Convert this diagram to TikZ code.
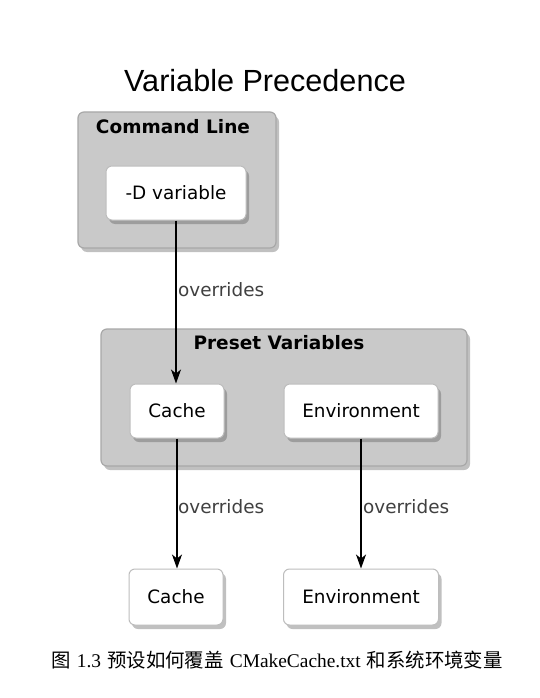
\documentclass[tikz,border=0pt]{standalone}
\usepackage{fontspec}
\setmainfont{DejaVu Sans}
\newfontfamily\titlefont{Liberation Sans}
\newfontfamily\capserif{Liberation Serif}
\newfontfamily\cjk{Noto Sans CJK SC}
\usetikzlibrary{shadows,arrows.meta}
\definecolor{grpfill}{HTML}{C9C9C9}
\definecolor{grpdraw}{HTML}{A8A8A8}
\definecolor{boxdraw}{HTML}{BDBDBD}
\definecolor{lbl}{HTML}{404040}
\tikzset{
  grp/.style={draw=grpdraw, line width=1.2pt, fill=grpfill, rounded corners=6pt,
    drop shadow={shadow xshift=3pt, shadow yshift=-4pt, opacity=0.35, fill=black!70}},
  itembox/.style={draw=boxdraw, line width=1pt, fill=white, rounded corners=6pt,
    font=\fontsize{18.4}{21}\selectfont,
    drop shadow={shadow xshift=3pt, shadow yshift=-4pt, opacity=0.35, fill=black!70}},
  grptitle/.style={font=\fontsize{18.5}{21}\selectfont\bfseries},
  ovr/.style={font=\fontsize{18.4}{21}\selectfont, text=lbl, anchor=west, inner sep=0pt},
  conn/.style={line width=1.3pt, -{Stealth[length=14pt,width=10pt,inset=4pt]}}
}
\begin{document}
\begin{tikzpicture}[x=1pt,y=-1pt]
\useasboundingbox (0,0) rectangle (540,698);
\fill[white] (0,0) rectangle (540,698);
\node[font=\titlefont\fontsize{30.6}{35}\selectfont] (title) at (265,81) {Variable Precedence};
% groups
\node[grp, minimum width=198pt, minimum height=136pt] (cl) at (177,180) {};
\node[grptitle] (cltitle) at (173,127) {Command Line};
\node[grp, minimum width=366pt, minimum height=137pt] (pv) at (284,397.5) {};
\node[grptitle] (pvtitle) at (279,343) {Preset Variables};
% boxes
\node[itembox, minimum width=140pt, minimum height=54pt] (dvar) at (176,193) {-D variable};
\node[itembox, minimum width=94pt, minimum height=54pt] (cache1) at (177,411) {Cache};
\node[itembox, minimum width=154pt, minimum height=54pt] (env1) at (361,411) {Environment};
\node[itembox, minimum width=94pt, minimum height=56pt] (cache2) at (176,597) {Cache};
\node[itembox, minimum width=155pt, minimum height=56pt] (env2) at (361,597) {Environment};
% connectors
\draw[conn] (dvar.south) -- (dvar.south |- cache1.north);
\draw[conn] (cache1.south) -- (cache1.south |- cache2.north);
\draw[conn] (env1.south) -- (env1.south |- env2.north);
\node[ovr] (o1) at (178,290) {overrides};
\node[ovr] (o2) at (178,507) {overrides};
\node[ovr] (o3) at (363,507) {overrides};
% caption
\node[font=\fontsize{19.4}{23}\selectfont] (cap) at (277,660)
 {{\cjk 图} {\capserif 1.3} {\cjk 预设如何覆盖} {\capserif CMakeCache.txt} {\cjk 和系统环境变量}};
\end{tikzpicture}
\end{document}
